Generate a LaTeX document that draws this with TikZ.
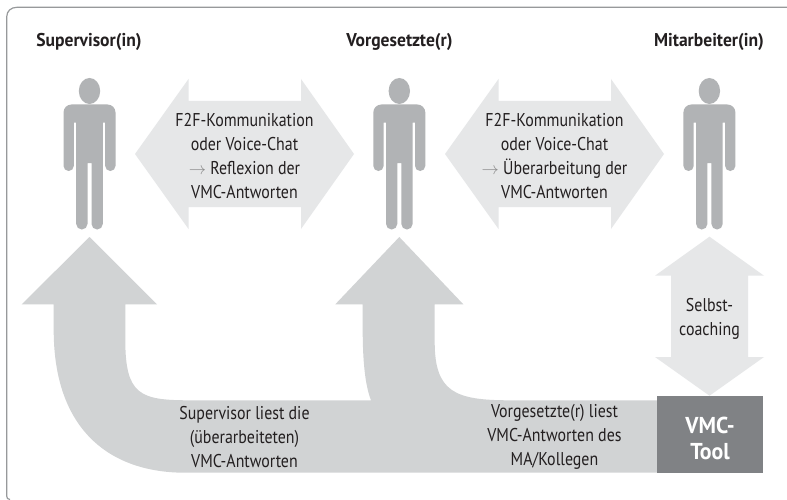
\documentclass[tikz,border=0pt]{standalone}
\usepackage{fontspec}
\setmainfont[FakeStretch=0.86,BoldFeatures={FakeStretch=0.95}]{PT Sans}
\definecolor{lightarrow}{HTML}{E6E7E8}
\definecolor{midarrow}{HTML}{D1D3D4}
\definecolor{figurecol}{HTML}{B1B3B5}
\definecolor{toolbox}{HTML}{808285}
\definecolor{framecol}{HTML}{97999B}
\definecolor{ink}{HTML}{231F20}
\tikzset{
  x=1pt,y=-1pt,
  person/.pic={
    \fill[figurecol] (0,91) ellipse [x radius=10.7,y radius=13];
    \fill[figurecol,rounded corners=5.1pt] (-15.7,122.7) -- (-15.7,171) -- (-26,171)
      [rounded corners=8pt] -- (-26,104.5) -- (26,104.5)
      [rounded corners=5.1pt] -- (26,171) -- (15.7,171)
      [sharp corners] -- (15.7,122.7) -- (13.3,122.7)
      [rounded corners=5.6pt] -- (13.3,229.5) -- (2,229.5)
      [sharp corners] -- (2,163) -- (-2,163)
      [rounded corners=5.6pt] -- (-2,229.5) -- (-13.3,229.5)
      [sharp corners] -- (-13.3,122.7) -- cycle;
  },
  headtext/.style={font=\bfseries\fontsize{18.5}{20}\selectfont,text=ink,inner sep=0pt},
  bodytext/.style={font=\fontsize{18.5}{24}\selectfont,text=ink,align=center,inner sep=0pt},
  tooltext/.style={font=\bfseries\fontsize{23}{26}\selectfont,text=white,align=center,inner sep=0pt},
}
\newcommand{\thinarrow}{{\color{black!45}$\rightarrow$}}
\begin{document}
\begin{tikzpicture}
\useasboundingbox (0,0) rectangle (787,500);
\fill[white] (0,0) rectangle (787,500);
% frame
\draw[framecol,line width=1.2pt] (10,499.5) .. controls (7.8,499.5) and (6.7,498) .. (6.7,496) -- (6.7,17)
  .. controls (6.7,11) and (11,7.3) .. (17,7.3) -- (787,7.3);
% big return arrow
\fill[midarrow] (657,400.3) -- (510,400.3) .. controls (455,400.3) and (434.7,392) .. (434.7,342)
  -- (434.7,304.3) -- (463.3,304.3) -- (399.3,237) -- (335.3,304.3) -- (362.7,304.3) -- (362.7,330)
  .. controls (362.7,360) and (365,385) .. (371,400.3) -- (190,400.3)
  .. controls (140,400.3) and (125.3,395) .. (125.3,340) -- (125.3,304.3) -- (157,304.3)
  -- (89.5,237) -- (21.7,304.3) -- (53.7,304.3) -- (53.7,330)
  .. controls (53.7,430) and (110,472.7) .. (185,472.7) -- (657,472.7) -- cycle;
% horizontal double arrows
\foreach \dx in {0,310}{
  \fill[lightarrow] (135+\dx,154) -- (188.5+\dx,79) -- (188.5+\dx,101) -- (301+\dx,101) -- (301+\dx,79)
    -- (354+\dx,154) -- (301+\dx,229) -- (301+\dx,207) -- (188.5+\dx,207) -- (188.5+\dx,229) -- cycle;
}
% vertical double arrow
\fill[lightarrow] (709.5,236.7) -- (764,275.7) -- (748,275.7) -- (748,357) -- (764,357) -- (709.5,395.7)
  -- (655,357) -- (671,357) -- (671,275.7) -- (655,275.7) -- cycle;
% tool box
\node[fill=toolbox,minimum width=106pt,minimum height=76.7pt,inner sep=0pt] (tool) at (710,434.3) {};
\node[tooltext] (tooltxt) at (710,438) {VMC-\\Tool};
% persons
\pic at (89.5,0) {person};
\pic at (399.3,0) {person};
\pic at (709.4,0) {person};
% headings
\node[headtext] (sup) at (89,42) {Supervisor(in)};
\node[headtext] (vor) at (399.5,42) {Vorgesetzte(r)};
\node[headtext] (mit) at (709,42) {Mitarbeiter(in)};
% labels
\node[bodytext] (la) at (244.5,156) {F2F-Kommunikation\\oder Voice-Chat\\\thinarrow\ Reflexion der\\VMC-Antworten};
\node[bodytext] (lb) at (554.5,156) {F2F-Kommunikation\\oder Voice-Chat\\\thinarrow\ Überarbeitung der\\VMC-Antworten};
\node[bodytext] (lc) at (709.5,319) {Selbst-\\coaching};
\node[bodytext] (ld) at (244.5,437) {Supervisor liest die\\(überarbeiteten)\\VMC-Antworten};
\node[bodytext] (le) at (554.5,437) {Vorgesetzte(r) liest\\VMC-Antworten des\\MA/Kollegen};
\end{tikzpicture}
\end{document}
